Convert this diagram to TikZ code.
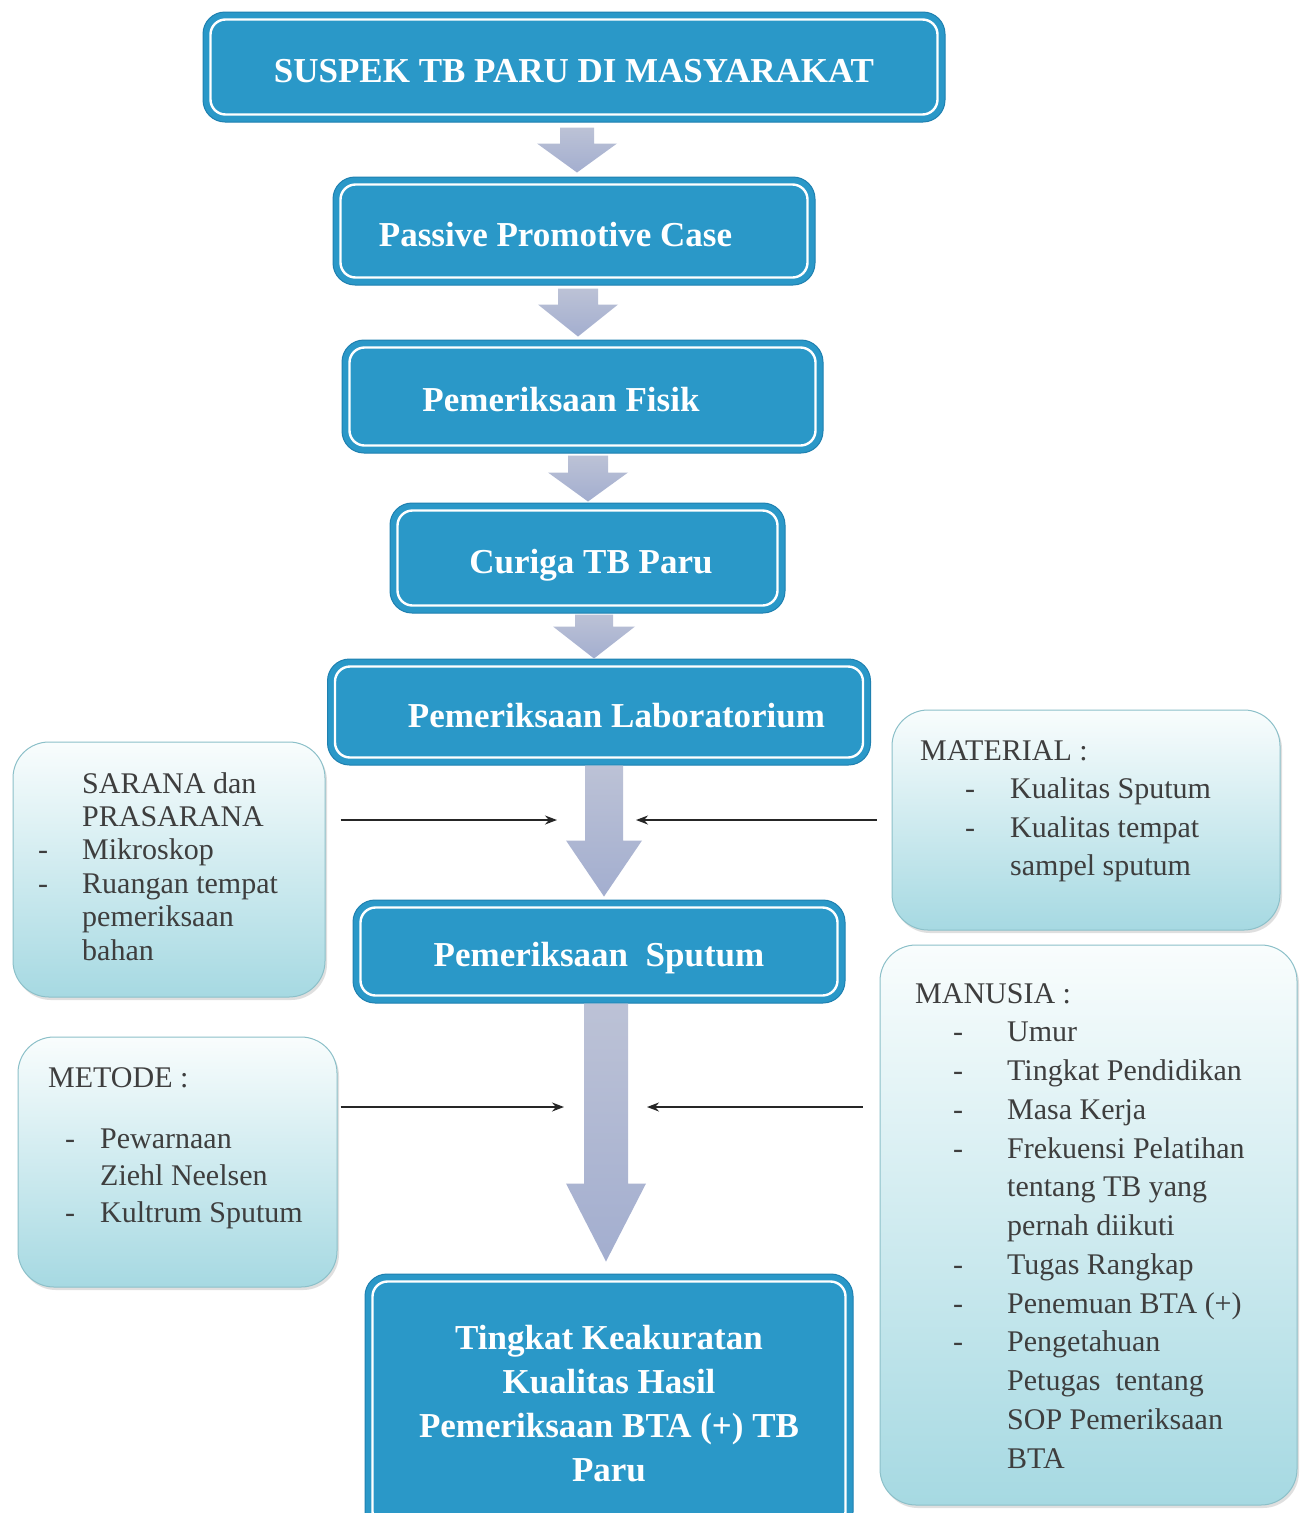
\documentclass[tikz,border=0pt]{standalone}
\usepackage{fontspec}
\setmainfont{Liberation Serif}
\usetikzlibrary{calc,arrows.meta,shadows}
\definecolor{boxblue}{HTML}{2A98C8}
\definecolor{boxedge}{HTML}{1E80B0}
\definecolor{sidetop}{HTML}{F9FDFD}
\definecolor{sidemid}{HTML}{DDEFF2}
\definecolor{sidebot}{HTML}{A6D9E2}
\definecolor{sideedge}{HTML}{8CC0C9}
\definecolor{txtgray}{HTML}{3E3E3E}
\definecolor{arrtop}{HTML}{BCC2D6}
\definecolor{arrmid}{HTML}{8E9BCB}
\definecolor{arrbot}{HTML}{A3AECF}
\newcommand\flowarrow[8]{%
  \path[blockarrow] let \p1=(#1.south), \p2=(#2.north) in
    ({(#3-#4)*1pt},{\y1-#7pt}) -- ({(#3+#4)*1pt},{\y1-#7pt})
    -- ({(#3+#4)*1pt},{\y2+#8pt+#6pt}) -- ({(#3+#5)*1pt},{\y2+#8pt+#6pt})
    -- ({#3*1pt},{\y2+#8pt})
    -- ({(#3-#5)*1pt},{\y2+#8pt+#6pt}) -- ({(#3-#4)*1pt},{\y2+#8pt+#6pt}) -- cycle;}
\begin{document}
\begin{tikzpicture}[x=1pt,y=-1pt,
  bluebox/.style={rectangle, rounded corners=22pt, fill=boxblue, draw=boxedge, line width=1pt,
    text=white, font=\fontsize{35pt}{44pt}\selectfont\bfseries, inner sep=0pt},
  oneline/.style={text height=30pt, text depth=0pt},
  sidebox/.style={rectangle, rounded corners=36pt, top color=sidetop, middle color=sidemid,
    bottom color=sidebot, draw=sideedge, line width=1pt,
    drop shadow={shadow xshift=2pt, shadow yshift=-3pt, opacity=0.25, fill=black!50}},
  sidetext/.style={anchor=base west, inner sep=0pt, text=txtgray},
  conn/.style={draw=black!85, line width=1.5pt, -{Stealth[length=12pt,width=9pt]}},
  blockarrow/.style={top color=arrtop, middle color=arrmid, bottom color=arrbot, draw=none},
  innerline/.style={draw=white, line width=2.4pt, rounded corners=15pt}
]
\fill[white] (0,0) rectangle (1302,1513);
\useasboundingbox (0,0) rectangle (1302,1513);
\clip (0,0) rectangle (1302,1513);

% main flow boxes
\node[bluebox, oneline, minimum width=742pt, minimum height=110pt] (b1) at (574,67) {SUSPEK TB PARU DI MASYARAKAT};
\node[bluebox, oneline, minimum width=482pt, minimum height=108pt] (b2) at (574,231) {\hspace*{-37pt}Passive Promotive Case};
\node[bluebox, oneline, minimum width=481pt, minimum height=113pt] (b3) at (582.5,396.5) {\hspace*{-43pt}Pemeriksaan Fisik};
\node[bluebox, oneline, minimum width=395pt, minimum height=110pt] (b4) at (587.5,558) {\hspace*{7pt}Curiga TB Paru};
\node[bluebox, oneline, minimum width=543pt, minimum height=106pt] (b5) at (599,712) {\hspace*{35pt}Pemeriksaan Laboratorium};
\node[bluebox, oneline, minimum width=492pt, minimum height=103pt] (b6) at (599,951.5) {Pemeriksaan\ \ Sputum};
\node[bluebox, align=center, minimum width=488pt, minimum height=260pt] (b7) at (609,1404)
  {Tingkat Keakuratan\\Kualitas Hasil\\Pemeriksaan BTA (+) TB\\Paru};
\foreach \n in {b1,b2,b3,b4,b5,b6,b7}
  \draw[innerline] ([shift={(8pt,8pt)}]\n.south west) rectangle ([shift={(-8pt,-8pt)}]\n.north east);

% side boxes
\node[sidebox, minimum width=312pt, minimum height=255pt] (sar) at (169,869.5) {};
\node[sidebox, minimum width=388pt, minimum height=220pt] (mat) at (1086,820) {};
\node[sidebox, minimum width=319pt, minimum height=250pt] (met) at (177.5,1162) {};
\node[sidebox, minimum width=417pt, minimum height=560pt] (man) at (1088.5,1225) {};

\node[sidetext, font=\fontsize{30pt}{33.4pt}\selectfont] (sarT) at (38,793) {%
\begin{tabular}[t]{@{}l@{}}
\hspace*{44pt}SARANA dan\\
\hspace*{44pt}PRASARANA\\
\makebox[44pt][l]{-}Mikroskop\\
\makebox[44pt][l]{-}Ruangan tempat\\
\hspace*{44pt}pemeriksaan\\
\hspace*{44pt}bahan
\end{tabular}};

\node[sidetext, font=\fontsize{30pt}{38.5pt}\selectfont] (matT) at (920,760) {%
\begin{tabular}[t]{@{}l@{}}
MATERIAL :\\
\hspace*{45pt}\makebox[45pt][l]{-}Kualitas Sputum\\
\hspace*{45pt}\makebox[45pt][l]{-}Kualitas tempat\\
\hspace*{90pt}sampel sputum
\end{tabular}};

\node[sidetext, font=\fontsize{30pt}{37pt}\selectfont] (metT) at (48,1087) {%
\begin{tabular}[t]{@{}l@{}}
METODE :\\[24pt]
\hspace*{17pt}\makebox[35pt][l]{-}Pewarnaan\\
\hspace*{52pt}Ziehl Neelsen\\
\hspace*{17pt}\makebox[35pt][l]{-}Kultrum Sputum
\end{tabular}};

\node[sidetext, font=\fontsize{30pt}{38.75pt}\selectfont] (manT) at (915,1003) {%
\begin{tabular}[t]{@{}l@{}}
MANUSIA :\\
\hspace*{38pt}\makebox[54pt][l]{-}Umur\\
\hspace*{38pt}\makebox[54pt][l]{-}Tingkat Pendidikan\\
\hspace*{38pt}\makebox[54pt][l]{-}Masa Kerja\\
\hspace*{38pt}\makebox[54pt][l]{-}Frekuensi Pelatihan\\
\hspace*{92pt}tentang TB yang\\
\hspace*{92pt}pernah diikuti\\
\hspace*{38pt}\makebox[54pt][l]{-}Tugas Rangkap\\
\hspace*{38pt}\makebox[54pt][l]{-}Penemuan BTA (+)\\
\hspace*{38pt}\makebox[54pt][l]{-}Pengetahuan\\
\hspace*{92pt}Petugas\ \ tentang\\
\hspace*{92pt}SOP Pemeriksaan\\
\hspace*{92pt}BTA
\end{tabular}};

% block arrows of the flow
\flowarrow{b1}{b2}{577}{17}{40}{29}{5}{4}
\flowarrow{b2}{b3}{578}{20}{40}{32}{3}{3}
\flowarrow{b3}{b4}{588}{20}{40}{29}{2}{1}
\flowarrow{b4}{b5}{594}{19}{41}{32}{1}{0}
\flowarrow{b5}{b6}{604}{19}{38}{56}{0}{3}
\flowarrow{b6}{b7}{606}{22}{40}{78}{0}{12}

% side connectors
\coordinate (j1l) at (557,820);
\coordinate (j1r) at (636,820);
\coordinate (j2l) at (564,1107);
\coordinate (j2r) at (647,1107);
\draw[conn, shorten <=15pt] (sar.east |- j1l) -- (j1l);
\draw[conn, shorten <=15pt] (mat.west |- j1r) -- (j1r);
\draw[conn, shorten <=3pt] (met.east |- j2l) -- (j2l);
\draw[conn, shorten <=17pt] (man.west |- j2r) -- (j2r);
\end{tikzpicture}
\end{document}
